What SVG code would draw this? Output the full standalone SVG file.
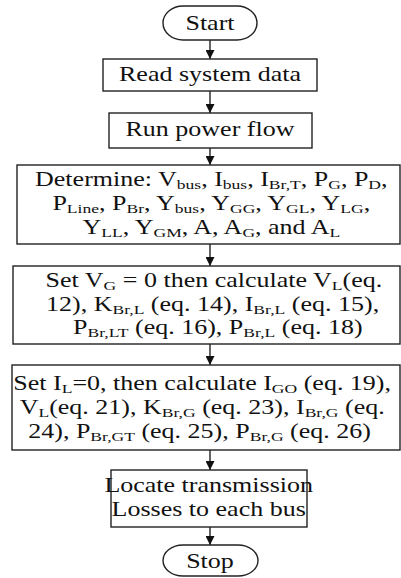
<svg xmlns="http://www.w3.org/2000/svg" width="401" height="578" viewBox="0 0 401 578">
<defs>
<style>
.b{fill:#fff;stroke:#222;stroke-width:1.4}
.c{stroke:#111;stroke-width:1.3;fill:none}
text{font-family:"Liberation Serif","Times New Roman",serif;font-size:20px;fill:#111;text-anchor:middle}
.s{font-size:13.5px}
</style>
<marker id="ah" viewBox="0 0 10 10" refX="10" refY="5" markerWidth="9" markerHeight="9" markerUnits="userSpaceOnUse" orient="auto">
<path d="M0,0L10,5L0,10z" fill="#111"/>
</marker>
</defs>
<rect width="401" height="578" fill="#fff"/>
<g id="connectors">
<line class="c" x1="210" y1="40" x2="210" y2="59" marker-end="url(#ah)"/>
<line class="c" x1="210" y1="91" x2="210" y2="113" marker-end="url(#ah)"/>
<line class="c" x1="210" y1="148" x2="210" y2="165" marker-end="url(#ah)"/>
<line class="c" x1="210" y1="244" x2="210" y2="266" marker-end="url(#ah)"/>
<line class="c" x1="210" y1="344" x2="210" y2="365" marker-end="url(#ah)"/>
<line class="c" x1="210" y1="450" x2="210" y2="470" marker-end="url(#ah)"/>
<line class="c" x1="210" y1="527" x2="210" y2="545" marker-end="url(#ah)"/>
</g>
<g id="start">
<rect class="b" x="163" y="6" width="94" height="34" rx="20" ry="17"/>
<g transform="translate(210,0) scale(1.3,1) translate(-210,0)"><text x="210" y="30">Start</text></g>
</g>
<g id="read">
<rect class="b" x="103" y="59" width="214" height="32"/>
<g transform="translate(210,0) scale(1.3,1) translate(-210,0)"><text x="210" y="81">Read system data</text></g>
</g>
<g id="run">
<rect class="b" x="109" y="113" width="203" height="35"/>
<g transform="translate(210,0) scale(1.3,1) translate(-210,0)"><text x="210" y="136">Run power flow</text></g>
</g>
<g id="determine">
<rect class="b" x="17" y="165" width="383" height="79"/>
<g transform="translate(210,0) scale(1.3,1) translate(-210,0)">
<text x="211" y="186">Determine: V<tspan class="s" dy="3">bus</tspan><tspan dy="-3">, I</tspan><tspan class="s" dy="3">bus</tspan><tspan dy="-3">, I</tspan><tspan class="s" dy="3">Br,T</tspan><tspan dy="-3">, P</tspan><tspan class="s" dy="3">G</tspan><tspan dy="-3">, P</tspan><tspan class="s" dy="3">D</tspan><tspan dy="-3">,</tspan></text>
<text x="211" y="210">P<tspan class="s" dy="3">Line</tspan><tspan dy="-3">, P</tspan><tspan class="s" dy="3">Br</tspan><tspan dy="-3">, Y</tspan><tspan class="s" dy="3">bus</tspan><tspan dy="-3">, Y</tspan><tspan class="s" dy="3">GG</tspan><tspan dy="-3">, Y</tspan><tspan class="s" dy="3">GL</tspan><tspan dy="-3">, Y</tspan><tspan class="s" dy="3">LG</tspan><tspan dy="-3">,</tspan></text>
<text x="211" y="234">Y<tspan class="s" dy="3">LL</tspan><tspan dy="-3">, Y</tspan><tspan class="s" dy="3">GM</tspan><tspan dy="-3">, A, A</tspan><tspan class="s" dy="3">G</tspan><tspan dy="-3">, and A</tspan><tspan class="s" dy="3">L</tspan></text>
</g>
</g>
<g id="setvg">
<rect class="b" x="13" y="266" width="387" height="78"/>
<g transform="translate(210,0) scale(1.3,1) translate(-210,0)">
<text x="213" y="287">Set V<tspan class="s" dy="3">G</tspan><tspan dy="-3"> = 0 then calculate V</tspan><tspan class="s" dy="3">L</tspan><tspan dy="-3">(eq.</tspan></text>
<text x="212" y="311">12), K<tspan class="s" dy="3">Br,L</tspan><tspan dy="-3"> (eq. 14), I</tspan><tspan class="s" dy="3">Br,L</tspan><tspan dy="-3"> (eq. 15),</tspan></text>
<text x="216" y="334">P<tspan class="s" dy="3">Br,LT</tspan><tspan dy="-3"> (eq. 16), P</tspan><tspan class="s" dy="3">Br,L</tspan><tspan dy="-3"> (eq. 18)</tspan></text>
</g>
</g>
<g id="setil">
<rect class="b" x="12" y="365" width="388" height="85"/>
<g transform="translate(210,0) scale(1.3,1) translate(-210,0)">
<text x="204" y="390">Set I<tspan class="s" dy="3">L</tspan><tspan dy="-3">=0, then calculate I</tspan><tspan class="s" dy="3">GO</tspan><tspan dy="-3"> (eq. 19),</tspan></text>
<text x="204" y="414">V<tspan class="s" dy="3">L</tspan><tspan dy="-3">(eq. 21), K</tspan><tspan class="s" dy="3">Br,G</tspan><tspan dy="-3"> (eq. 23), I</tspan><tspan class="s" dy="3">Br,G</tspan><tspan dy="-3"> (eq.</tspan></text>
<text x="202" y="438">24), P<tspan class="s" dy="3">Br,GT</tspan><tspan dy="-3"> (eq. 25), P</tspan><tspan class="s" dy="3">Br,G</tspan><tspan dy="-3"> (eq. 26)</tspan></text>
</g>
</g>
<g id="locate">
<rect class="b" x="111" y="470" width="196" height="57"/>
<g transform="translate(210,0) scale(1.3,1) translate(-210,0)">
<text x="209" y="492">Locate transmission</text>
<text x="209" y="516">Losses to each bus</text>
</g>
</g>
<g id="stop">
<rect class="b" x="163" y="545" width="95" height="31" rx="20" ry="15.5"/>
<g transform="translate(210,0) scale(1.3,1) translate(-210,0)"><text x="210" y="568">Stop</text></g>
</g>
</svg>
